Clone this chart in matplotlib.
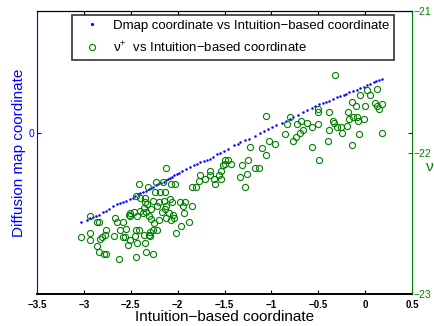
import matplotlib
matplotlib.use("Agg")
import matplotlib.pyplot as plt

plt.rcParams['font.family'] = ['Liberation Sans', 'DejaVu Sans']
plt.rcParams['mathtext.default'] = 'regular'

# Dmap coordinate (left axis) vs intuition-based coordinate
dmap_x = [-3.03, -2.97, -2.93, -2.90, -2.87, -2.84, -2.80, -2.76, -2.73, -2.69,
          -2.65, -2.62, -2.58, -2.55, -2.51, -2.48, -2.45, -2.42, -2.40, -2.37,
          -2.34, -2.31, -2.28, -2.26, -2.23, -2.21, -2.18, -2.15, -2.12, -2.10,
          -2.08, -2.06, -2.04, -2.01, -1.99, -1.95, -1.91, -1.87, -1.83, -1.79,
          -1.76, -1.72, -1.69, -1.66, -1.62, -1.58, -1.55, -1.51, -1.46, -1.40,
          -1.36, -1.33, -1.28, -1.24, -1.18, -1.12, -1.08, -1.04, -0.99, -0.95,
          -0.89, -0.84, -0.80, -0.77, -0.72, -0.66, -0.62, -0.57, -0.53, -0.49,
          -0.45, -0.42, -0.39, -0.34, -0.30, -0.27, -0.23, -0.20, -0.17, -0.13,
          -0.09, -0.05, -0.01, 0.02, 0.05, 0.09, 0.12, 0.15, 0.18]
dmap_y = [-0.633, -0.615, -0.605, -0.597, -0.590, -0.582, -0.563, -0.551, -0.541, -0.520,
          -0.504, -0.497, -0.488, -0.482, -0.471, -0.460, -0.448, -0.436, -0.428, -0.420,
          -0.410, -0.398, -0.388, -0.381, -0.372, -0.365, -0.356, -0.346, -0.334, -0.326,
          -0.318, -0.310, -0.302, -0.293, -0.287, -0.272, -0.256, -0.240, -0.228, -0.218,
          -0.209, -0.199, -0.192, -0.184, -0.170, -0.153, -0.142, -0.127, -0.112, -0.090,
          -0.077, -0.066, -0.052, -0.042, -0.020, 0.000, 0.012, 0.024, 0.041, 0.054,
          0.068, 0.080, 0.098, 0.108, 0.127, 0.148, 0.160, 0.175, 0.189, 0.200,
          0.211, 0.218, 0.226, 0.240, 0.250, 0.259, 0.270, 0.277, 0.285, 0.295,
          0.305, 0.315, 0.325, 0.336, 0.344, 0.356, 0.364, 0.372, 0.379]

# nu+ (right axis) vs intuition-based coordinate
nu_x = [-0.32, 0.02, 0.13, -0.05, 0.05, -0.14, -0.18, -0.10, 0.00, 0.11,
        0.18, 0.13, 0.15, -0.50, -0.50, -0.39, -1.06, -0.80, -0.34, -0.33,
        -0.30, -0.17, -0.13, -0.09, -0.08, -0.01, -0.19, -0.26, -0.39, -0.25,
        -0.06, 0.18, -0.83, -0.73, -0.68, -0.62, -0.57, -0.50, -0.66, -0.70,
        -0.86, -0.74, -0.77, -0.57, -0.40, -0.14, -0.49, -1.23, -1.10, -1.06,
        -1.03, -0.96, -1.50, -1.46, -1.49, -1.43, -1.52, -1.31, -1.25, -1.34,
        -1.26, -1.18, -1.13, -1.54, -1.56, -1.54, -1.61, -1.66, -1.66, -1.76,
        -1.77, -1.85, -1.80, -1.71, -1.28, -1.60, -2.12, -2.41, -2.32, -2.23,
        -2.16, -2.07, -2.03, -2.24, -2.19, -2.13, -2.44, -2.40, -2.35, -2.35,
        -2.26, -2.20, -2.15, -2.08, -2.06, -1.98, -1.92, -1.94, -1.85, -2.22,
        -2.28, -2.33, -2.36, -2.40, -2.47, -2.51, -2.52, -2.51, -2.43, -2.37,
        -2.34, -2.31, -2.28, -2.25, -2.20, -2.17, -2.13, -2.12, -2.09, -2.07,
        -2.05, -2.04, -1.93, -1.88, -1.96, -2.02, -2.12, -2.22, -2.26, -2.29,
        -2.29, -2.31, -2.36, -2.41, -2.44, -2.45, -2.43, -2.35, -2.34, -2.26,
        -2.44, -2.51, -2.53, -2.56, -2.55, -2.62, -2.58, -2.65, -2.67, -2.58,
        -2.68, -2.76, -2.77, -2.81, -2.83, -2.86, -2.84, -2.79, -2.76, -2.84,
        -2.86, -2.94, -2.94, -2.93, -3.03, -2.63]
nu_y = [-21.45, -21.56, -21.55, -21.59, -21.59, -21.64, -21.71, -21.67, -21.67, -21.65,
        -21.66, -21.67, -21.69, -21.69, -21.71, -21.71, -21.74, -21.75, -21.78, -21.79,
        -21.82, -21.76, -21.75, -21.75, -21.78, -21.76, -21.81, -21.82, -21.84, -21.86,
        -21.87, -21.86, -21.80, -21.80, -21.78, -21.79, -21.82, -21.80, -21.84, -21.86,
        -21.87, -21.89, -21.92, -21.96, -21.92, -21.95, -22.05, -21.96, -21.97, -22.02,
        -21.92, -21.94, -22.05, -22.05, -22.08, -22.08, -22.09, -22.09, -22.05, -22.17,
        -22.15, -22.11, -22.11, -22.13, -22.16, -22.19, -22.19, -22.13, -22.16, -22.16,
        -22.20, -22.24, -22.24, -22.19, -22.24, -22.22, -22.11, -22.22, -22.24, -22.21,
        -22.21, -22.22, -22.22, -22.28, -22.28, -22.28, -22.31, -22.32, -22.32, -22.35,
        -22.34, -22.35, -22.34, -22.33, -22.35, -22.35, -22.35, -22.38, -22.38, -22.38,
        -22.40, -22.36, -22.39, -22.41, -22.42, -22.43, -22.44, -22.45, -22.45, -22.43,
        -22.42, -22.45, -22.47, -22.50, -22.48, -22.42, -22.40, -22.38, -22.43, -22.48,
        -22.44, -22.46, -22.43, -22.49, -22.52, -22.57, -22.46, -22.55, -22.55, -22.56,
        -22.59, -22.58, -22.58, -22.55, -22.55, -22.59, -22.64, -22.64, -22.70, -22.72,
        -22.74, -22.62, -22.65, -22.60, -22.54, -22.55, -22.49, -22.49, -22.46, -22.60,
        -22.59, -22.55, -22.58, -22.60, -22.61, -22.66, -22.70, -22.72, -22.72, -22.49,
        -22.49, -22.45, -22.57, -22.62, -22.60, -22.75]

xticks = [-3.5, -3, -2.5, -2, -1.5, -1, -0.5, 0, 0.5]
xticklabels = ['\u22123.5', '\u22123', '\u22122.5', '\u22122', '\u22121.5', '\u22121', '\u22120.5', '0', '0.5']

blue = '#0000ff'
green = '#008000'


def main():
    fig = plt.figure(figsize=(4.34, 3.26), dpi=100)
    ax1 = fig.add_axes([0.0853, 0.098, 0.864, 0.868])
    ax2 = ax1.twinx()

    l1, = ax1.plot(dmap_x, dmap_y, linestyle='none', marker='.', ms=1.6,
                   color=blue, mec=blue)
    l2, = ax2.plot(nu_x, nu_y, linestyle='none', marker='o', ms=4.4,
                   mfc='none', mec=green, mew=0.8)

    ax1.set_xlim(-3.5, 0.5)
    ax1.set_xticks(xticks)
    ax1.set_xticklabels(xticklabels, fontsize=7, fontweight='bold')
    ax1.set_ylim(-1.14, 0.86)
    ax1.set_yticks([0])
    ax1.set_yticklabels(['0'], fontsize=7.5, color=blue)
    ax1.set_xlabel('Intuition\u2212based coordinate', fontsize=11, labelpad=0)
    ax1.set_ylabel('Diffusion map coordinate', fontsize=11, color=blue, labelpad=2)
    ax1.tick_params(axis='x', direction='in', length=3, top=True, pad=4)
    ax1.tick_params(axis='y', direction='in', length=3, colors=blue, right=True, pad=2)

    ax2.set_ylim(-23, -21)
    ax2.set_yticks([-23, -22, -21])
    ax2.set_yticklabels(['\u221223', '\u221222', '\u221221'], fontsize=7.5)
    ax2.tick_params(axis='y', direction='in', length=3, colors=green, pad=1)
    ax2.set_ylabel('\u03bd', fontsize=11, color=green, rotation=0, va='center', ha='center')
    ax2.yaxis.set_label_coords(1.048, 0.45)

    for ax in (ax1, ax2):
        ax.spines['top'].set_color('black')
        ax.spines['bottom'].set_color('black')
        ax.spines['bottom'].set_linewidth(1.2)
    ax1.spines['left'].set_color(blue)
    ax2.spines['left'].set_visible(False)
    ax1.spines['right'].set_visible(False)
    ax2.spines['right'].set_color(green)

    leg = ax2.legend([l1, l2],
                     ['Dmap coordinate vs Intuition\u2212based coordinate',
                      '$\\nu^{+}$  vs Intuition\u2212based coordinate'],
                     loc='upper left', bbox_to_anchor=(0.093, 0.986),
                     fontsize=9.5, frameon=True, fancybox=False,
                     borderpad=0.35, labelspacing=0.6, handletextpad=0.4,
                     handlelength=2.4, borderaxespad=0)
    leg.get_frame().set_edgecolor('black')
    leg.get_frame().set_linewidth(1.2)
    leg.legend_handles[0].set_markersize(2.5)

    fig.savefig('out.png', dpi=100)


if __name__ == '__main__':
    main()
